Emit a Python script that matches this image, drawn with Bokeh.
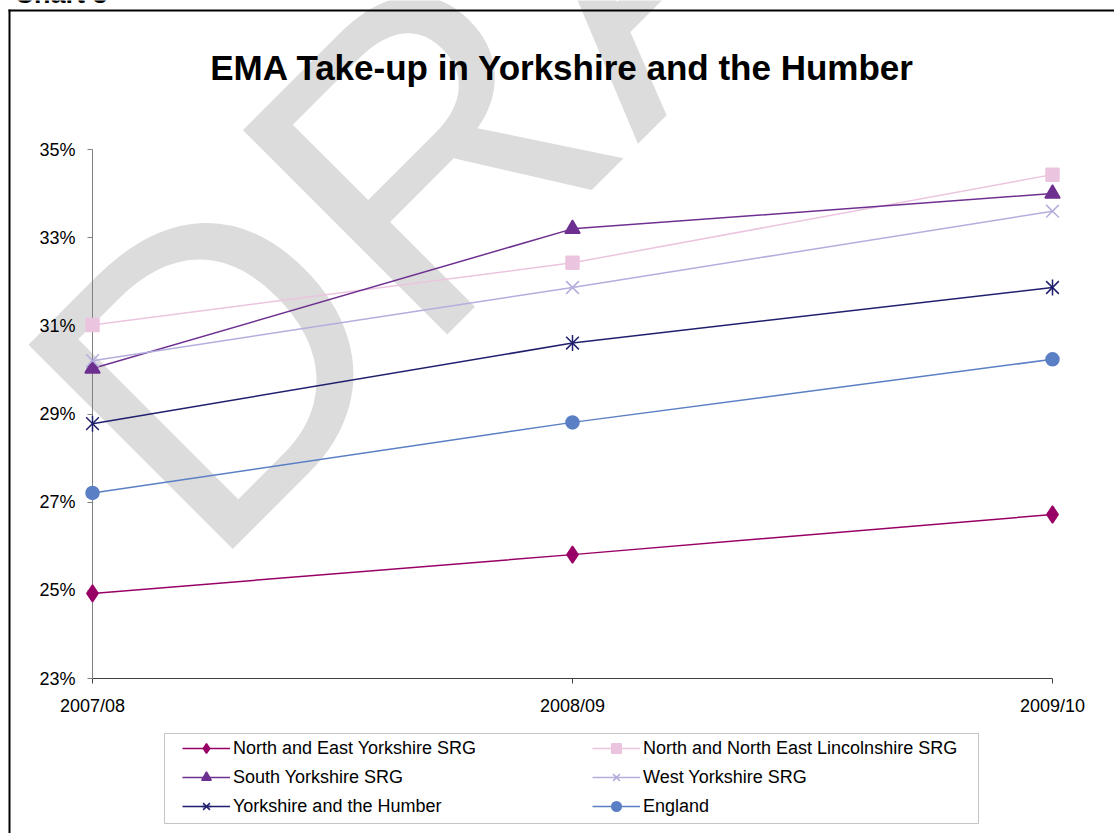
from bokeh.plotting import figure
from bokeh.models import Range1d, LinearAxis, FixedTicker, Label, Legend, LegendItem, BoxAnnotation
from bokeh.embed import file_html
from bokeh.resources import INLINE

# ---------------- data ----------------
chart_caption = "Chart 3"
title_text = "EMA Take-up in Yorkshire and the Humber"
watermark_text = "DRAFT"
years = ["2007/08", "2008/09", "2009/10"]
north_east_yorkshire = [24.93, 25.81, 26.72]
north_ne_lincolnshire = [31.02, 32.43, 34.43]
south_yorkshire = [30.03, 33.20, 34.00]
west_yorkshire = [30.21, 31.87, 33.60]
yorkshire_humber = [28.78, 30.61, 31.87]
england = [27.21, 28.81, 30.24]
series_names = [
    "North and East Yorkshire SRG",
    "North and North East Lincolnshire SRG",
    "South Yorkshire SRG",
    "West Yorkshire SRG",
    "Yorkshire and the Humber",
    "England",
]
y_ticks = [23, 25, 27, 29, 31, 33, 35]
y_tick_labels = ["23%", "25%", "27%", "29%", "31%", "33%", "35%"]

# ---------------- layout (pixels) ----------------
W, H = 1114, 833
AX_L, AX_R, AX_T, AX_B = 92, 1052, 149, 678
xs = list(range(len(years)))
Y0, Y1 = y_ticks[0], y_ticks[-1]


def xd(px):
    return (px - AX_L) * (xs[-1] - xs[0]) / (AX_R - AX_L)


def yd(py):
    return Y1 - (py - AX_T) * (Y1 - Y0) / (AX_B - AX_T)


FONT = "Liberation Sans"

p = figure(width=W, height=H,
           x_range=Range1d(xd(0), xd(W)), y_range=Range1d(yd(H), yd(0)),
           output_backend="svg", toolbar_location=None,
           x_axis_location=None, y_axis_location=None,
           min_border_left=0, min_border_right=0, min_border_top=0, min_border_bottom=0,
           outline_line_color=None, background_fill_color="white", border_fill_color="white")
p.xgrid.visible = False
p.ygrid.visible = False

# watermark (behind everything)
p.add_layout(Label(x=xd(105), y=yd(470), text=watermark_text, angle=45, angle_units="deg",
                   text_font=FONT, text_font_size="420px",
                   text_color="#dcdcdc", text_align="left", text_baseline="alphabetic",
                   level="underlay"))

# y axis: drawn at the first category, labels to its left
yaxis = LinearAxis(fixed_location=xs[0], bounds=(Y0, Y1),
                   ticker=FixedTicker(ticks=y_ticks),
                   major_label_overrides=dict(zip(y_ticks, y_tick_labels)),
                   axis_line_color="#808080", major_tick_line_color="#808080",
                   major_tick_out=0, major_tick_in=5, minor_tick_out=0, minor_tick_in=0,
                   major_label_text_font=FONT, major_label_text_font_size="18px",
                   major_label_text_color="black", major_label_standoff=-53)
p.add_layout(yaxis, "right")

# x axis: drawn at 23%, labels below it
xaxis = LinearAxis(fixed_location=Y0, bounds=(xs[0], xs[-1]),
                   ticker=FixedTicker(ticks=xs),
                   major_label_overrides=dict(zip(xs, years)),
                   axis_line_color="#404040", major_tick_line_color="#404040",
                   major_tick_out=0, major_tick_in=5, minor_tick_out=0, minor_tick_in=0,
                   major_label_text_font=FONT, major_label_text_font_size="18px",
                   major_label_text_color="black", major_label_standoff=-37)
p.add_layout(xaxis, "above")

# series
styles = [
    (north_east_yorkshire, "#990066", [("diamond", 17)]),
    (north_ne_lincolnshire, "#EBC5E0", [("square", 13)]),
    (south_yorkshire, "#6E3090", [("triangle", 15)]),
    (west_yorkshire, "#B3AEDD", [("x", 18)]),
    (yorkshire_humber, "#1F1F6E", [("x", 18), ("dash", 16)]),
    (england, "#5B7FC4", [("circle", 13)]),
]
items = []
for name, (vals, color, markers) in zip(series_names, styles):
    rs = [p.line(xs, vals, line_color=color, line_width=1.5, level="overlay")]
    for mk, sz in markers:
        rs.append(p.scatter(xs, vals, marker=mk, size=sz,
                            angle=(1.5708 if mk == "dash" else 0.0),
                            fill_color=color, line_color=color, line_width=1.5,
                            level="overlay"))
    items.append(LegendItem(label=name, renderers=rs))

legend = Legend(items=items, orientation="horizontal", ncols=2,
                location=(182, H - 818),
                glyph_width=48, glyph_height=24, label_height=24, label_width=354,
                label_standoff=3, spacing=5, padding=0, margin=0,
                border_line_color=None, background_fill_alpha=0,
                label_text_font=FONT, label_text_font_size="18px",
                label_text_color="black")
p.add_layout(legend)

# legend frame
p.add_layout(BoxAnnotation(left=xd(164), right=xd(978), top=yd(733), bottom=yd(823),
                           fill_color=None, line_color="#404040", line_width=1))
# chart border (left and top edges visible)
p.add_layout(BoxAnnotation(left=xd(8), right=xd(10), top=yd(9), bottom=yd(H + 20),
                           fill_color="black", fill_alpha=1, line_color=None))
p.add_layout(BoxAnnotation(left=xd(8), right=xd(W + 20), top=yd(9), bottom=yd(11),
                           fill_color="black", fill_alpha=1, line_color=None))

# caption (cut off at the top, as in the source page) and title
p.add_layout(Label(x=xd(14), y=yd(-7), text=chart_caption, text_align="left",
                   text_baseline="alphabetic", text_font=FONT, text_font_style="bold",
                   text_font_size="27px", text_color="black"))
p.add_layout(Label(x=xd(562), y=yd(67), text=title_text, text_align="center",
                   text_baseline="alphabetic", text_font=FONT, text_font_style="bold",
                   text_font_size="35px", text_color="black"))

open("out.html", "w").write(file_html(p, INLINE))
